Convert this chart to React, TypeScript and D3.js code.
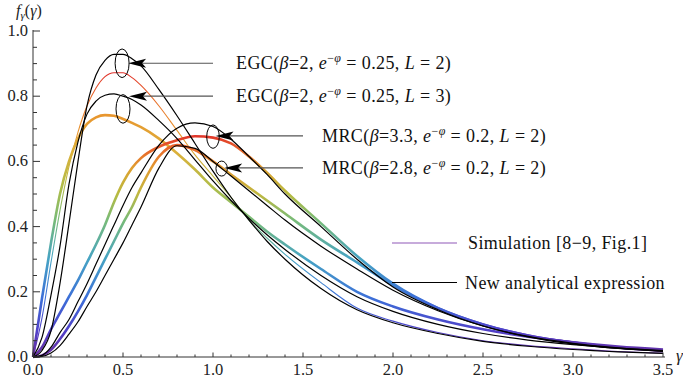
import React from "react";
import * as d3 from "d3";

const W = 683;
const H = 381;

// shared x grid (gamma)
const xGrid = [0, 0.05, 0.1, 0.15, 0.2, 0.25, 0.3, 0.35, 0.4, 0.45, 0.5, 0.55, 0.6, 0.7, 0.8, 0.9, 1.0, 1.1, 1.2, 1.3, 1.4, 1.6, 1.8, 2.0, 2.25, 2.5, 2.75, 3.0, 3.25, 3.5];

// simulation curves
const egc2Sim = [0, 0.12, 0.29, 0.45, 0.585, 0.69, 0.77, 0.825, 0.86, 0.872, 0.872, 0.857, 0.833, 0.77, 0.695, 0.62, 0.555, 0.49, 0.42, 0.365, 0.315, 0.228, 0.15, 0.11, 0.075, 0.05, 0.035, 0.025, 0.017, 0.012];
const egc3Sim = [0, 0.18, 0.35, 0.5, 0.6, 0.67, 0.715, 0.735, 0.742, 0.74, 0.73, 0.718, 0.705, 0.67, 0.625, 0.575, 0.52, 0.475, 0.43, 0.385, 0.345, 0.27, 0.2, 0.155, 0.115, 0.085, 0.062, 0.045, 0.032, 0.023];
const mrc33Sim = [0, 0.03, 0.085, 0.135, 0.185, 0.235, 0.29, 0.345, 0.405, 0.475, 0.535, 0.58, 0.61, 0.645, 0.665, 0.677, 0.673, 0.655, 0.615, 0.565, 0.51, 0.41, 0.31, 0.225, 0.15, 0.1, 0.066, 0.044, 0.029, 0.019];
const mrc28Sim = [0, 0.005, 0.022, 0.055, 0.095, 0.14, 0.19, 0.245, 0.3, 0.355, 0.41, 0.46, 0.52, 0.615, 0.65, 0.635, 0.6, 0.56, 0.52, 0.48, 0.44, 0.36, 0.29, 0.22, 0.15, 0.1, 0.066, 0.044, 0.029, 0.019];

// analytical curves
const egc2Ana = [0, 0.02, 0.08, 0.226, 0.41, 0.6, 0.77, 0.865, 0.91, 0.928, 0.928, 0.915, 0.893, 0.82, 0.74, 0.655, 0.57, 0.49, 0.42, 0.355, 0.3, 0.21, 0.145, 0.105, 0.072, 0.048, 0.033, 0.023, 0.016, 0.011];
const egc3Ana = [0, 0.06, 0.19, 0.34, 0.53, 0.66, 0.745, 0.785, 0.803, 0.807, 0.8, 0.79, 0.773, 0.725, 0.67, 0.605, 0.54, 0.48, 0.425, 0.375, 0.33, 0.25, 0.185, 0.14, 0.1, 0.072, 0.052, 0.038, 0.027, 0.02];
const mrc33Ana = [0, 0.005, 0.03, 0.075, 0.115, 0.17, 0.225, 0.285, 0.345, 0.405, 0.465, 0.52, 0.565, 0.65, 0.702, 0.718, 0.707, 0.668, 0.615, 0.56, 0.5, 0.4, 0.3, 0.215, 0.145, 0.095, 0.062, 0.04, 0.026, 0.017];
const mrc28Ana = [0, 0.002, 0.012, 0.035, 0.07, 0.108, 0.155, 0.2, 0.25, 0.3, 0.35, 0.405, 0.46, 0.58, 0.648, 0.64, 0.6, 0.555, 0.51, 0.465, 0.42, 0.34, 0.27, 0.205, 0.142, 0.095, 0.063, 0.042, 0.028, 0.018];

// rainbow colour stops (value, colour) per simulation curve
const baseStops: [number, string][] = [[0, "#6b2fa0"], [0.08, "#5040c8"], [0.18, "#3c6fd8"], [0.3, "#46a3c4"], [0.42, "#78bb78"]];
const egc2Stops: [number, string][] = [...baseStops, [0.55, "#c0b840"], [0.68, "#e89a30"], [0.8, "#e86a2a"], [0.87, "#e0302a"]];
const egc3Stops: [number, string][] = [...baseStops, [0.52, "#b0bd48"], [0.63, "#dcb03a"], [0.74, "#e8962e"]];
const mrc33Stops: [number, string][] = [...baseStops, [0.5, "#b8bb40"], [0.58, "#e0a030"], [0.63, "#e86a2a"], [0.68, "#e0342a"]];
const mrc28Stops: [number, string][] = [...baseStops, [0.5, "#c0b840"], [0.58, "#e39a30"], [0.65, "#e8602a"]];

// ticks
const xMajorTicks = [0, 0.5, 1.0, 1.5, 2.0, 2.5, 3.0, 3.5];
const yMajorTicks = [0, 0.2, 0.4, 0.6, 0.8, 1.0];

// annotations
const annPrefix = ["EGC", "EGC", "MRC", "MRC"];
const annBeta = ["2", "2", "3.3", "2.8"];
const annEphi = ["0.25", "0.25", "0.2", "0.2"];
const annL = ["2", "3", "2", "2"];
const annEllipseX = [0.495, 0.5, 1.0, 1.048];
const annEllipseY = [0.901, 0.761, 0.676, 0.578];
const annArrowY = [0.901, 0.8, 0.678, 0.58];

const legendLabels = ["Simulation [8\u22129, Fig.1]", "New analytical expression"];

const FONT = "'Liberation Serif', 'Times New Roman', serif";

export default function App() {
  const x = d3.scaleLinear().domain([0, 3.5]).range([33, 663]);
  const y = d3.scaleLinear().domain([0, 1]).range([357, 31]);

  const lineGen = d3
    .line<number>()
    .x((_, i) => x(xGrid[i]))
    .y((d) => y(d))
    .curve(d3.curveMonotoneX);

  const sims = [
    { id: "g-egc2", data: egc2Sim, stops: egc2Stops, w: 1.1 },
    { id: "g-egc3", data: egc3Sim, stops: egc3Stops, w: 2.6 },
    { id: "g-mrc33", data: mrc33Sim, stops: mrc33Stops, w: 2.6 },
    { id: "g-mrc28", data: mrc28Sim, stops: mrc28Stops, w: 2.6 },
  ];
  const anas = [egc2Ana, egc3Ana, mrc33Ana, mrc28Ana];

  const xMinor = d3.range(0, 36).map((i) => i / 10);
  const yMinor = d3.range(0, 21).map((i) => i / 20);

  const axisColor = "#333";

  return (
    <svg width={W} height={H} style={{ position: "absolute", left: 0, top: 0, background: "#fff" }} fontFamily={FONT}>
      <defs>
        {sims.map((s) => {
          const top = s.stops[s.stops.length - 1][0];
          return (
            <linearGradient key={s.id} id={s.id} gradientUnits="userSpaceOnUse" x1={0} x2={0} y1={y(0)} y2={y(top)}>
              {s.stops.map(([v, c], i) => (
                <stop key={i} offset={v / top} stopColor={c} />
              ))}
            </linearGradient>
          );
        })}
      </defs>

      {/* simulation curves */}
      {sims.map((s) => (
        <path key={s.id} d={lineGen(s.data) || ""} fill="none" stroke={`url(#${s.id})`} strokeWidth={s.w} strokeLinejoin="round" />
      ))}
      {/* analytical curves */}
      {anas.map((a, i) => (
        <path key={i} d={lineGen(a) || ""} fill="none" stroke="#000" strokeWidth={1.2} />
      ))}

      {/* axes */}
      <line x1={x(0)} x2={x(3.5) + 2} y1={y(0)} y2={y(0)} stroke={axisColor} strokeWidth={1} />
      <line x1={x(0)} x2={x(0)} y1={y(0)} y2={y(1) - 1} stroke={axisColor} strokeWidth={1} />
      {xMinor.map((t, i) => {
        const major = i % 5 === 0;
        return <line key={"xm" + i} x1={x(t)} x2={x(t)} y1={y(0)} y2={y(0) - (major ? 4.5 : 2.5)} stroke={axisColor} strokeWidth={1} />;
      })}
      {yMinor.map((t, i) => {
        const major = i % 4 === 0;
        return <line key={"ym" + i} x1={x(0)} x2={x(0) + (major ? 7 : 4)} y1={y(t)} y2={y(t)} stroke={axisColor} strokeWidth={1} />;
      })}
      {xMajorTicks.map((t) => (
        <text key={"xl" + t} x={x(t)} y={y(0) + 18} textAnchor="middle" fontSize={16.5} fill="#222">
          {t.toFixed(1)}
        </text>
      ))}
      {yMajorTicks.map((t) => (
        <text key={"yl" + t} x={x(0) - 5} y={y(t) + 5} textAnchor="end" fontSize={16.5} fill="#222">
          {t.toFixed(1)}
        </text>
      ))}
      {/* axis titles */}
      <text x={16} y={16} fontSize={16} fill="#222">
        <tspan fontStyle="italic">f</tspan>
        <tspan fontSize={11} dy={3} fontStyle="italic">γ</tspan>
        <tspan dy={-3}>(</tspan>
        <tspan fontStyle="italic">γ</tspan>
        <tspan>)</tspan>
      </text>
      <text x={676} y={361} fontSize={17} fontStyle="italic" fill="#222">γ</text>

      {/* annotations */}
      {annPrefix.map((p, i) => {
        const cx = x(annEllipseX[i]);
        const cy = y(annEllipseY[i]);
        const ay = y(annArrowY[i]);
        const isEgc = i < 2;
        const rx = isEgc ? 7 : i === 2 ? 6.3 : 5.7;
        const ry = isEgc ? 14.3 : i === 2 ? 11.7 : 7.5;
        const tip = cx + (isEgc ? 6 : 2.5);
        const lineEnd = isEgc ? 213 : 303;
        const textX = isEgc ? 236 : 322;
        return (
          <g key={"ann" + i}>
            <ellipse cx={cx} cy={cy} rx={rx} ry={ry} fill="none" stroke="#000" strokeWidth={1} />
            <line x1={tip + 14} x2={lineEnd} y1={ay} y2={ay} stroke="#555" strokeWidth={1.2} />
            <path d={`M${tip},${ay} L${tip + 18},${ay - 4.5} L${tip + 14},${ay} L${tip + 18},${ay + 4.5} Z`} fill="#000" />
            <text x={textX} y={ay + 6} fontSize={18} letterSpacing={0.4} fill="#111">
              <tspan>{p}(</tspan>
              <tspan fontStyle="italic">β</tspan>
              <tspan>={annBeta[i]}, </tspan>
              <tspan fontStyle="italic">e</tspan>
              <tspan fontSize={12} dy={-7}>−</tspan>
              <tspan fontSize={12} fontStyle="italic">φ</tspan>
              <tspan dy={7}> = {annEphi[i]}, </tspan>
              <tspan fontStyle="italic">L</tspan>
              <tspan> = {annL[i]})</tspan>
            </text>
          </g>
        );
      })}

      {/* legend */}
      <line x1={392} x2={457} y1={243} y2={243} stroke="#b58fcf" strokeWidth={1.5} />
      <text x={468} y={249} fontSize={18} letterSpacing={0.4} fill="#111">{legendLabels[0]}</text>
      <line x1={392} x2={457} y1={282.5} y2={282.5} stroke="#000" strokeWidth={1.2} />
      <text x={465} y={288.5} fontSize={18} letterSpacing={0.4} fill="#111">{legendLabels[1]}</text>
    </svg>
  );
}
